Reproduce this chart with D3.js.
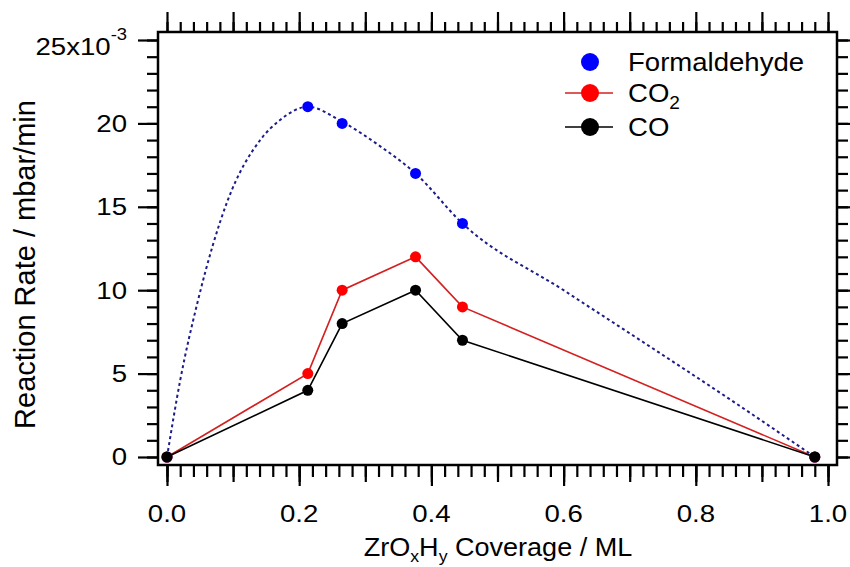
<!DOCTYPE html>
<html>
<head>
<meta charset="utf-8">
<script src="https://cdn.jsdelivr.net/npm/d3@7"></script>
<style>
  body { margin: 0; background: #fff; }
  svg text { font-family: 'Liberation Sans', Arial, sans-serif; fill: #000; }
</style>
</head>
<body>
<script>
const width = 850;
const height = 567;

// Coverage (ML) and rates (x10^-3 mbar/min)
const coverage = [0, 0.213, 0.265, 0.376, 0.447, 0.98];
const formaldehyde = [0, 21, 20, 17, 14, 0];
const co2 = [0, 5, 10, 12, 9, 0];
const co = [0, 4, 8, 10, 7, 0];

// dotted guide curve through formaldehyde
const fitCoverage = [0, 0.02, 0.047, 0.092, 0.141, 0.171, 0.213, 0.265, 0.32, 0.376, 0.447, 0.6, 0.716, 0.85, 0.98];
const fitRate = [0, 4.6, 9.4, 15.4, 19.0, 20.2, 21.0, 20.1, 18.7, 17.0, 14.0, 10.0, 7.0, 3.5, 0];

const xTickValues = [0, 0.2, 0.4, 0.6, 0.8, 1.0];
const yTickValues = [0, 5, 10, 15, 20, 25];

const legendNames = ['Formaldehyde', 'CO', 'CO'];
const legendSubs = ['', '2', ''];

// frame in px
const frameLeft = 158;
const frameRight = 837;
const frameTop = 32;
const frameBottom = 465;

const x = d3.scaleLinear().domain([-0.0136, 1.0136]).range([frameLeft, frameRight]);
const y = d3.scaleLinear().domain([-0.48, 25.48]).range([frameBottom, frameTop]);

const svg = d3.select('body').append('svg')
  .attr('width', width)
  .attr('height', height);

// the original text is a bit wider than Arial
function hText (px, py, size, anchor, stretch) {
  return svg.append('text')
    .attr('transform', `translate(${px},${py}) scale(${stretch},1)`)
    .attr('text-anchor', anchor)
    .attr('font-size', size);
}

// --- axes (ticks outward, no domain path) ---
function tickAxis (axis, transform, values, size) {
  svg.append('g')
    .attr('transform', transform)
    .call(axis.tickValues(values).tickSize(size).tickFormat(''))
    .call(g => g.select('.domain').remove())
    .call(g => g.selectAll('line').attr('stroke', '#000').attr('stroke-width', 2.2));
}

const xMinor = d3.range(0, 51).map(i => i * 0.02);
const xMid = d3.range(0, 11).map(i => i * 0.1);
const yMinor = d3.range(0, 26);

tickAxis(d3.axisBottom(x), `translate(0,${frameBottom})`, xMinor, 12);
tickAxis(d3.axisBottom(x), `translate(0,${frameBottom})`, xMid, 17);
tickAxis(d3.axisBottom(x), `translate(0,${frameBottom})`, xTickValues, 21);
tickAxis(d3.axisTop(x), `translate(0,${frameTop})`, xMinor, 10);
tickAxis(d3.axisTop(x), `translate(0,${frameTop})`, xMid, 20);
tickAxis(d3.axisLeft(y), `translate(${frameLeft},0)`, yMinor, 11);
tickAxis(d3.axisLeft(y), `translate(${frameLeft},0)`, yTickValues, 20);
tickAxis(d3.axisRight(y), `translate(${frameRight},0)`, yMinor, 11);
tickAxis(d3.axisRight(y), `translate(${frameRight},0)`, yTickValues, 20);

svg.append('rect')
  .attr('x', frameLeft)
  .attr('y', frameTop)
  .attr('width', frameRight - frameLeft)
  .attr('height', frameBottom - frameTop)
  .attr('fill', 'none')
  .attr('stroke', '#000')
  .attr('stroke-width', 2.5);

// tick labels
xTickValues.forEach(function (d) {
  hText(x(d), 522, 24, 'middle', 1.15).text(d.toFixed(1));
});

yTickValues.slice(0, -1).forEach(function (d) {
  hText(127, y(d) + 8.5, 24, 'end', 1.15).text(d);
});

const topLabel = hText(127, 55, 24, 'end', 1.15);
topLabel.append('tspan').text('25x10');
topLabel.append('tspan').attr('font-size', 16).attr('dy', -15).text('-3');

// axis titles
const xTitle = hText(498, 556, 26, 'middle', 1.04);
xTitle.append('tspan').text('ZrO');
xTitle.append('tspan').attr('font-size', 17).attr('dy', 6).text('x');
xTitle.append('tspan').attr('dy', -6).text('H');
xTitle.append('tspan').attr('font-size', 17).attr('dy', 6).text('y');
xTitle.append('tspan').attr('dy', -6).text(' Coverage / ML');

svg.append('text')
  .attr('text-anchor', 'middle')
  .attr('transform', `translate(35, ${(frameTop + frameBottom) / 2 + 16}) rotate(-90)`)
  .attr('font-size', 29)
  .text('Reaction Rate / mbar/min');

// --- data ---
const fitLine = d3.line()
  .x((d, i) => x(fitCoverage[i]))
  .y(d => y(d))
  .curve(d3.curveMonotoneX);

svg.append('path')
  .attr('d', fitLine(fitRate))
  .attr('fill', 'none')
  .attr('stroke', '#1c1c8a')
  .attr('stroke-width', 2)
  .attr('stroke-dasharray', '3,3');

const dataLine = d3.line()
  .x((d, i) => x(coverage[i]))
  .y(d => y(d));

const series = [
  { values: formaldehyde, color: '#0000ff', line: false },
  { values: co2, color: '#ff0000', lineColor: '#d42020', line: true },
  { values: co, color: '#000000', lineColor: '#000000', line: true }
];

series.forEach(function (s) {
  if (s.line) {
    svg.append('path')
      .attr('d', dataLine(s.values))
      .attr('fill', 'none')
      .attr('stroke', s.lineColor)
      .attr('stroke-width', 1.6);
  }
});

series.forEach(function (s) {
  svg.selectAll(null)
    .data(s.values)
    .enter()
    .append('circle')
      .attr('cx', (d, i) => x(coverage[i]))
      .attr('cy', d => y(d))
      .attr('r', 5.5)
      .attr('fill', s.color);
});

// --- legend ---
const legendY = [62, 93, 127];
series.forEach(function (s, i) {
  const g = svg.append('g').attr('transform', `translate(590, ${legendY[i]})`);
  if (s.line) {
    g.append('line')
      .attr('x1', -25).attr('x2', 23)
      .attr('stroke', s.lineColor)
      .attr('stroke-width', 1.6);
  }
  g.append('circle').attr('r', 9).attr('fill', s.color);
  const t = g.append('text')
    .attr('transform', 'translate(38,9) scale(1.06,1)')
    .attr('font-size', 26)
    .text(legendNames[i]);
  if (legendSubs[i]) {
    t.append('tspan').attr('font-size', 18).attr('dy', 7).text(legendSubs[i]);
  }
});
</script>
</body>
</html>
